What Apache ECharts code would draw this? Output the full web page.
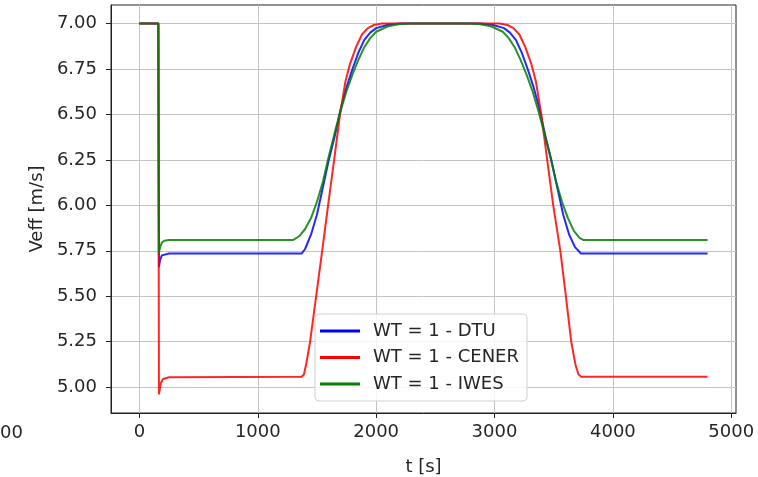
<!DOCTYPE html>
<html>
<head>
<meta charset="utf-8">
<script src="https://cdn.jsdelivr.net/npm/echarts@6/dist/echarts.min.js"></script>
<style>html,body{margin:0;padding:0;background:#fff}#c{width:758px;height:477px}</style>
</head>
<body>
<div id="c"></div>
<script>
var seriesNames = ['WT = 1 - DTU', 'WT = 1 - CENER', 'WT = 1 - IWES'];
var xTicks = [0, 1000, 2000, 3000, 4000, 5000];
var yTicks = [5.00, 5.25, 5.50, 5.75, 6.00, 6.25, 6.50, 6.75, 7.00];

var dtuT = [0,160,165,175,190,205,250,1370,1400,1450,1500,1550,1600,1650,1700,1750,1800,1850,1900,1950,2000,2100,2200,2880,2980,3080,3130,3180,3230,3280,3330,3380,3430,3480,3530,3580,3630,3680,3730,4800];
var dtuV = [7,7,5.66,5.70,5.725,5.732,5.735,5.735,5.76,5.84,5.95,6.1,6.25,6.38,6.53,6.65,6.75,6.84,6.91,6.95,6.975,6.993,7.0,7.0,6.993,6.975,6.95,6.91,6.84,6.75,6.65,6.53,6.38,6.25,6.1,5.95,5.84,5.77,5.735,5.735];

var cenerT = [0,160,165,180,200,250,1370,1390,1410,1442,1493,1544,1594,1645,1695,1740,1780,1830,1880,1930,1980,2050,3040,3110,3160,3210,3260,3310,3350,3395,3445,3496,3556,3603,3648,3685,3710,3733,4800];
var cenerV = [7,7,4.96,5.02,5.045,5.055,5.057,5.07,5.13,5.25,5.5,5.75,6.0,6.25,6.5,6.68,6.78,6.87,6.94,6.975,6.992,7.0,7.0,6.992,6.975,6.94,6.87,6.78,6.68,6.5,6.25,6.0,5.75,5.5,5.25,5.12,5.07,5.057,5.057];

var iwesT = [0,160,165,175,190,210,250,1300,1350,1400,1450,1500,1550,1600,1650,1700,1750,1800,1850,1900,1950,2000,2100,2200,2300,2770,2870,2970,3070,3120,3170,3220,3270,3320,3370,3420,3470,3520,3570,3620,3670,3720,3750,4800];
var iwesV = [7,7,5.74,5.77,5.795,5.805,5.81,5.81,5.83,5.87,5.93,6.02,6.13,6.27,6.4,6.52,6.63,6.72,6.8,6.87,6.92,6.955,6.985,6.997,7.0,7.0,6.997,6.985,6.955,6.92,6.87,6.8,6.72,6.63,6.52,6.4,6.27,6.13,6.02,5.93,5.86,5.82,5.81,5.81];

function pairs(t, v) { return t.map(function (x, i) { return [x, v[i]]; }); }

var FONT = 'DejaVu Sans';
var TXT = '#262626';
var chart = echarts.init(document.getElementById('c'), null, {renderer: 'canvas'});
var colors = ['#0000ff', '#ff0000', '#008000'];
var data = [pairs(dtuT, dtuV), pairs(cenerT, cenerV), pairs(iwesT, iwesV)];

chart.setOption({
  animation: false,
  backgroundColor: '#ffffff',
  grid: {left: 111, right: 22, top: 5, bottom: 64, show: true, borderColor: '#222', borderWidth: 1,
    backgroundColor: 'transparent', containLabel: false, outerBoundsMode: 'none'},
  xAxis: {
    type: 'value', min: -240, max: 5040,
    name: 't [s]', nameLocation: 'middle', nameGap: 45,
    nameTextStyle: {fontFamily: FONT, fontSize: 18, color: TXT},
    axisLine: {show: true, onZero: false, lineStyle: {color: '#222', width: 1}},
    axisTick: {show: true, customValues: xTicks, length: 5, lineStyle: {color: '#222'}},
    axisLabel: {customValues: xTicks, fontFamily: FONT, fontSize: 18, color: TXT, margin: 10,
      formatter: function (v) { return String(v); }},
    splitLine: {show: true, lineStyle: {color: '#c4c4c4', width: 1}}
  },
  yAxis: {
    type: 'value', min: 4.858, max: 7.102,
    name: 'Veff [m/s]', nameLocation: 'middle', nameGap: 64,
    nameTextStyle: {fontFamily: FONT, fontSize: 18, color: TXT},
    axisLine: {show: true, onZero: false, lineStyle: {color: '#222', width: 1}},
    axisTick: {show: true, customValues: yTicks, length: 5, lineStyle: {color: '#222'}},
    axisLabel: {customValues: yTicks, fontFamily: FONT, fontSize: 18, color: TXT, margin: 14,
      formatter: function (v) { return v.toFixed(2); }},
    splitLine: {show: true, lineStyle: {color: '#c4c4c4', width: 1}}
  },
  legend: {
    orient: 'vertical', left: 315, top: 314,
    padding: [8, 8, 8, 5], itemGap: 8.5, itemWidth: 40, itemHeight: 3,
    icon: 'rect',
    backgroundColor: 'rgba(255,255,255,0.85)', borderColor: '#d0d0d0', borderWidth: 1, borderRadius: 4,
    textStyle: {fontFamily: FONT, fontSize: 18, color: TXT, padding: [0, 0, 0, 8]},
    data: seriesNames
  },
  graphic: [{type: 'text', left: 0, top: 424, style: {text: '00', fontFamily: FONT, fontSize: 18, fill: TXT}}],
  series: seriesNames.map(function (n, i) {
    return {
      name: n, type: 'line', data: data[i], showSymbol: false, symbol: 'none',
      color: colors[i],
      lineStyle: {color: colors[i], width: 2, opacity: 0.85},
      z: 2 + i
    };
  })
});
</script>
</body>
</html>
